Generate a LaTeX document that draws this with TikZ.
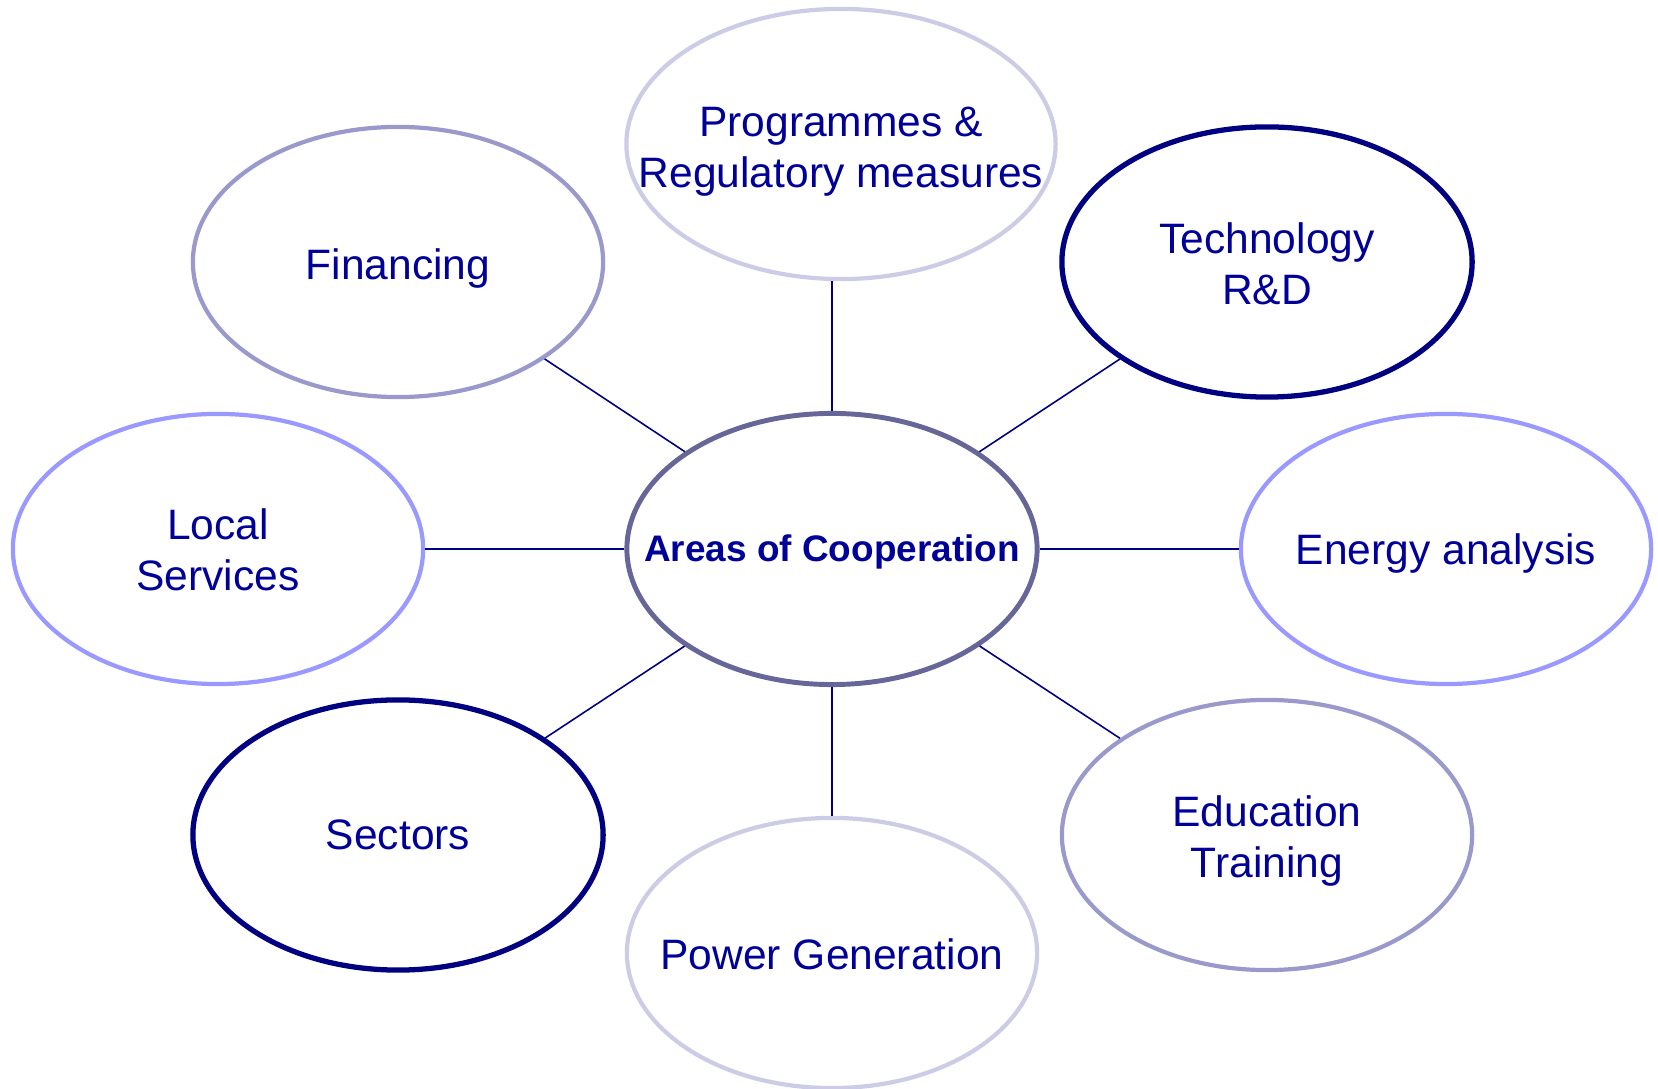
\documentclass[tikz,border=0pt]{standalone}
\usepackage{fontspec}
\setmainfont{Liberation Sans}
\usetikzlibrary{shapes.geometric,positioning}
\definecolor{textblue}{RGB}{0,0,153}
\definecolor{hubgrey}{RGB}{102,102,153}
\definecolor{palelilac}{RGB}{204,204,230}
\definecolor{deepnavy}{RGB}{0,0,128}
\definecolor{periwinkle}{RGB}{153,153,255}
\definecolor{greyblue}{RGB}{153,153,204}

\begin{document}
\begin{tikzpicture}[x=0.01cm,y=-0.01cm,% one unit = one pixel of the reference
        area/.style={ellipse,fill=white,inner sep=0pt,minimum width=4.1cm,minimum height=2.7cm,line width=1.2pt},%
        areatext/.style={text=textblue,align=center,font=\fontsize{12.1}{14.5}\selectfont},%
        link/.style={draw=deepnavy,line width=0.45pt}]
\useasboundingbox (0,0) rectangle (1658,1089);

\node[area,draw=hubgrey,line width=1.4pt,minimum height=2.71cm,
      label={[areatext,yshift=-0.9pt,font=\fontsize{10.5}{12.6}\selectfont\bfseries]center:Areas of Cooperation}] (coop) at (832,549) {};

\node[area,draw=greyblue,label={[areatext,yshift=-1.8pt]center:Financing}] (fin) at (398,262) {};
\node[area,draw=palelilac,minimum width=4.29cm,label={[areatext,yshift=-2.1pt]center:{Programmes \&\\Regulatory measures}}] (prog) at (841,144) {};
\node[area,draw=deepnavy,line width=1.5pt,label={[areatext,yshift=-0.6pt]center:{Technology\\R\&D}}] (tech) at (1267,262) {};
\node[area,draw=periwinkle,label={[areatext,yshift=-0.3pt]center:{Local\\Services}}] (loc) at (218,549) {};
\node[area,draw=periwinkle,label={[areatext,yshift=-1.2pt]center:Energy analysis}] (ener) at (1446,549) {};
\node[area,draw=deepnavy,line width=1.5pt,label={[areatext]center:Sectors}] (sect) at (398,835) {};
\node[area,draw=palelilac,label={[areatext,yshift=-0.3pt]center:Power Generation}] (pow) at (832,953) {};
\node[area,draw=greyblue,label={[areatext,yshift=-1.8pt]center:{Education\\Training}}] (edu) at (1267,835) {};

\foreach \n in {fin,tech,loc,ener,sect,edu,pow}{ %spokes from the hub
\draw[link] (coop) -- (\n);
}
\draw[link] (coop.north) -- (coop.north |- prog.south);

\end{tikzpicture}
\end{document}
